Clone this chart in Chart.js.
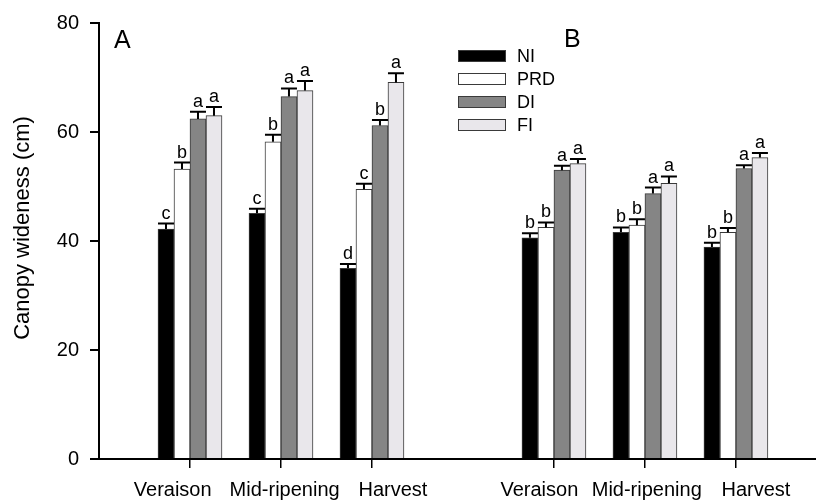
<!DOCTYPE html>
<html>
<head>
<meta charset="utf-8">
<script src="https://cdn.jsdelivr.net/npm/chart.js@4.4.0/dist/chart.umd.min.js"></script>
<style>
  html, body { margin: 0; padding: 0; background: #fff; }
  #wrap { width: 816px; height: 502px; position: relative; }
</style>
</head>
<body>
<div id="wrap"><canvas id="chart" width="816" height="502"></canvas></div>
<script>
// categories: two panels (A, B), three stages each, an empty slot between them
const stages = ['Veraison', 'Mid-ripening', 'Harvest', 'Veraison', 'Mid-ripening', 'Harvest'];
const stagePos = [1, 2, 3, 5, 6, 7];
const labelPos = [0.81, 2.04, 3.23, 4.84, 6.02, 7.22];
const treatments = ['NI', 'PRD', 'DI', 'FI'];
const yTicks = [0, 20, 40, 60, 80];

// means (cm)
const niMean  = [42.2, 45.1, 35.0, 40.6, 41.6, 38.9];
const prdMean = [53.2, 58.2, 49.5, 42.5, 42.9, 41.6];
const diMean  = [62.4, 66.5, 61.2, 53.0, 48.7, 53.3];
const fiMean  = [63.0, 67.6, 69.1, 54.2, 50.6, 55.3];

// standard errors
const niErr  = [1.0, 0.8, 0.8, 0.8, 0.9, 0.8];
const prdErr = [1.2, 1.3, 1.0, 0.9, 1.1, 0.8];
const diErr  = [1.3, 1.5, 1.0, 0.8, 1.1, 0.6];
const fiErr  = [1.6, 1.75, 1.7, 0.85, 1.25, 0.85];

// significance letters
const niLet  = ['c', 'c', 'd', 'b', 'b', 'b'];
const prdLet = ['b', 'b', 'c', 'b', 'b', 'b'];
const diLet  = ['a', 'a', 'b', 'a', 'a', 'a'];
const fiLet  = ['a', 'a', 'a', 'a', 'a', 'a'];

const means = [niMean, prdMean, diMean, fiMean];
const errs = [niErr, prdErr, diErr, fiErr];
const lets = [niLet, prdLet, diLet, fiLet];
const fills = ['#000000', '#ffffff', '#858585', '#e9e7eb'];

const FONT = '"Liberation Sans", Arial, Helvetica, sans-serif';
Chart.defaults.font.family = FONT;
Chart.defaults.color = '#000';

const datasets = treatments.map((t, i) => ({
  label: t,
  data: stagePos.map((x, j) => ({ x: x, y: means[i][j] })),
  backgroundColor: fills[i],
  borderColor: '#3a3a3a',
  borderWidth: 1,
  barThickness: 16,
  errs: errs[i],
  lets: lets[i]
}));

// error bars + letters, legend, panel labels, y title
const extras = {
  id: 'extras',
  afterDatasetsDraw(chart) {
    const c = chart.ctx;
    const y = chart.scales.y;
    c.save();
    chart.data.datasets.forEach((ds, i) => {
      const meta = chart.getDatasetMeta(i);
      meta.data.forEach((bar, j) => {
        const v = ds.data[j].y;
        const top = y.getPixelForValue(v + ds.errs[j]);
        c.strokeStyle = '#000';
        c.lineWidth = 2;
        c.beginPath();
        c.moveTo(bar.x, bar.y);
        c.lineTo(bar.x, top);
        c.moveTo(bar.x - 8, top);
        c.lineTo(bar.x + 8, top);
        c.stroke();
        c.fillStyle = '#000';
        c.font = '18px ' + FONT;
        c.textAlign = 'center';
        c.textBaseline = 'alphabetic';
        c.fillText(ds.lets[j], bar.x, top - 5);
      });
    });

    // legend
    c.font = '18px ' + FONT;
    c.textAlign = 'left';
    c.textBaseline = 'middle';
    treatments.forEach((t, i) => {
      const ty = 50 + i * 23;
      c.fillStyle = fills[i];
      c.fillRect(458, ty, 48, 12);
      c.strokeStyle = '#3a3a3a';
      c.lineWidth = 1;
      c.strokeRect(458.5, ty + 0.5, 47, 11);
      c.fillStyle = '#000';
      c.fillText(t, 517, ty + 7);
    });

    // panel labels
    c.font = '25px ' + FONT;
    c.textBaseline = 'alphabetic';
    c.fillText('A', 114, 48);
    c.fillText('B', 564, 47);

    // y title
    c.font = '22px ' + FONT;
    c.translate(23, 228);
    c.rotate(-Math.PI / 2);
    c.textAlign = 'center';
    c.textBaseline = 'middle';
    c.fillText('Canopy wideness (cm)', 0, 0);
    c.restore();
  }
};

new Chart(document.getElementById('chart'), {
  type: 'bar',
  data: { datasets: datasets },
  options: {
    responsive: false,
    animation: false,
    layout: { padding: { top: 17, right: 0, left: 0, bottom: 0 } },
    plugins: { legend: { display: false }, tooltip: { enabled: false } },
    scales: {
      x: {
        type: 'linear',
        position: 'bottom',
        min: 0,
        max: 7.88,
        offset: false,
        weight: 0,
        grid: { offset: false, drawOnChartArea: false, drawTicks: true, tickLength: 9, color: '#000', lineWidth: 1.5 },
        border: { display: true, color: '#000', width: 2 },
        ticks: { callback: () => '', autoSkip: false },
        afterBuildTicks: (s) => { s.ticks = stagePos.map(v => ({ value: v })); },
        afterFit: (s) => { s.height = 9; }
      },
      x2: {
        type: 'linear',
        position: 'bottom',
        min: 0,
        max: 7.88,
        offset: false,
        weight: 1,
        grid: { display: false, drawTicks: false },
        border: { display: false },
        ticks: {
          autoSkip: false, maxRotation: 0, minRotation: 0, padding: 10,
          font: { size: 20 },
          callback: (v, i) => stages[i]
        },
        afterBuildTicks: (s) => { s.ticks = labelPos.map(v => ({ value: v })); },
        afterFit: (s) => { s.height = 34; }
      },
      y: {
        min: 0,
        max: 80,
        grid: { drawOnChartArea: false, drawTicks: true, tickLength: 9, color: '#000', lineWidth: 2 },
        border: { display: true, color: '#000', width: 2 },
        ticks: { padding: 11, font: { size: 20 }, stepSize: 20 },
        afterBuildTicks: (s) => { s.ticks = yTicks.map(v => ({ value: v })); },
        afterFit: (s) => { s.width = 99; }
      }
    }
  },
  plugins: [extras]
});
</script>
</body>
</html>
